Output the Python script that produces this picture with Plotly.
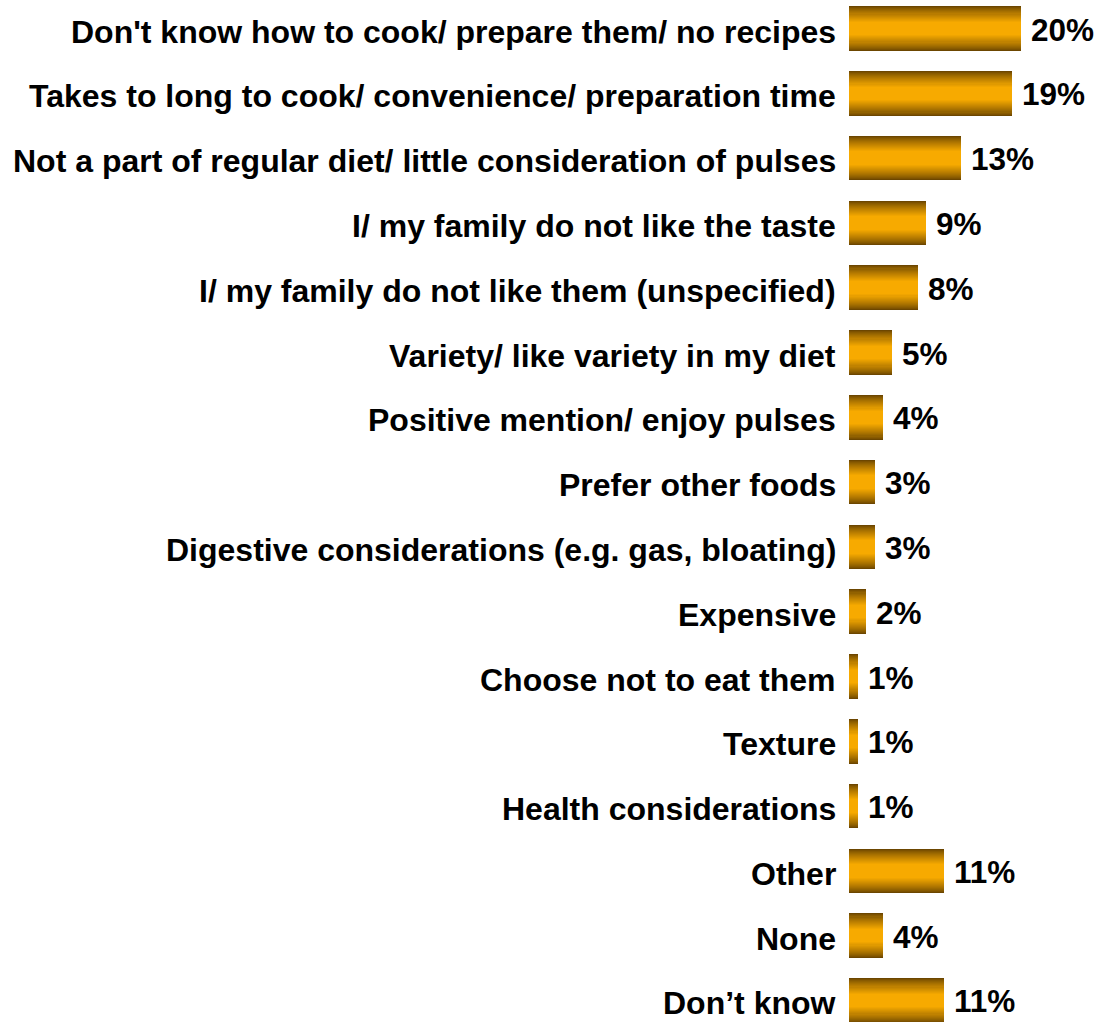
import plotly.graph_objects as go

# Reasons for not eating pulses more often (% of respondents)
reasons = [
    "Don't know how to cook/ prepare them/ no recipes",
    "Takes to long to cook/ convenience/ preparation time",
    "Not a part of regular diet/ little consideration of pulses",
    "I/ my family do not like the taste",
    "I/ my family do not like them (unspecified)",
    "Variety/ like variety in my diet",
    "Positive mention/ enjoy pulses",
    "Prefer other foods",
    "Digestive considerations (e.g. gas, bloating)",
    "Expensive",
    "Choose not to eat them",
    "Texture",
    "Health considerations",
    "Other",
    "None",
    "Don’t know",
]
shares = [20, 19, 13, 9, 8, 5, 4, 3, 3, 2, 1, 1, 1, 11, 4, 11]

FONT = "Liberation Sans, Arial, sans-serif"
DARK = (108, 70, 0)
BRIGHT = (247, 170, 0)
BAR_WIDTH = 0.69

fig = go.Figure()

# Vertical shading: stack progressively thinner, brighter bars on top of each other
n_layers = 16
for k in range(n_layers):
    frac = 1.0 - 0.7 * k / (n_layers - 1)
    t = (k / (n_layers - 1)) ** 0.8
    rgb = tuple(round(d + (b - d) * t) for d, b in zip(DARK, BRIGHT))
    fig.add_trace(go.Bar(
        x=shares,
        y=reasons,
        orientation="h",
        width=BAR_WIDTH * frac,
        marker=dict(color="rgb(%d,%d,%d)" % rgb, line=dict(width=0)),
        hoverinfo="skip",
        showlegend=False,
    ))

annotations = []
for name, val in zip(reasons, shares):
    annotations.append(dict(
        x=0, y=name, xref="x", yref="y",
        text=name, showarrow=False,
        xanchor="right", yanchor="middle", xshift=-11, yshift=-3,
        font=dict(family=FONT, size=32, color="#000000", weight="bold"),
    ))
    annotations.append(dict(
        x=val, y=name, xref="x", yref="y",
        text="%d%%" % val, showarrow=False,
        xanchor="left", yanchor="middle", xshift=8, yshift=-1,
        font=dict(family=FONT, size=31.5, color="#000000", weight="bold"),
    ))

fig.update_layout(
    width=1097,
    height=1022,
    margin=dict(l=849, r=0, t=0, b=0),
    barmode="overlay",
    bargap=0,
    plot_bgcolor="white",
    paper_bgcolor="white",
    annotations=annotations,
    xaxis=dict(range=[0, 248 / 8.6], visible=False, fixedrange=True),
    yaxis=dict(
        type="category",
        categoryorder="array",
        categoryarray=reasons,
        range=[15.332, -0.44],
        visible=False,
        fixedrange=True,
    ),
)

fig.write_html("out.html")
